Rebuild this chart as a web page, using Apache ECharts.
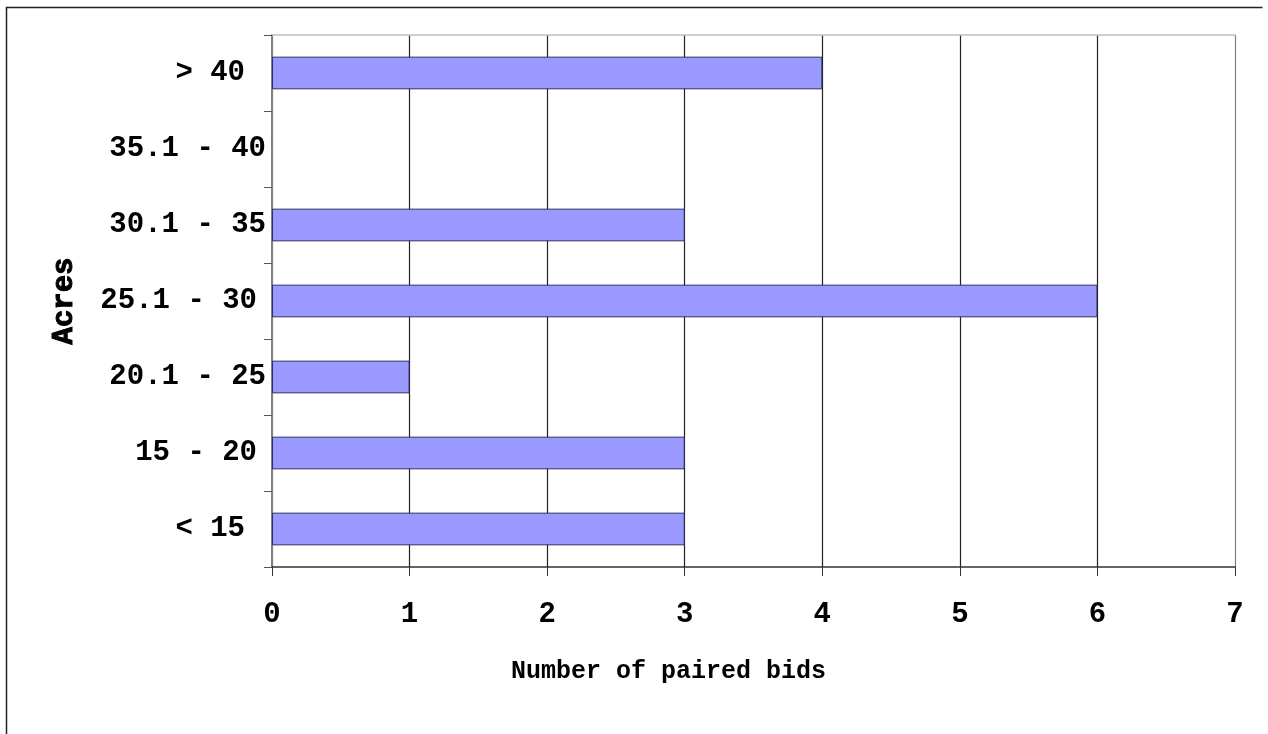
<!DOCTYPE html>
<html>
<head>
<meta charset="utf-8">
<script src="https://cdn.jsdelivr.net/npm/echarts@6/dist/echarts.min.js"></script>
<style>
html,body{margin:0;padding:0;background:#fff;}
#chart{width:1268px;height:734px;}
</style>
</head>
<body>
<div id="chart"></div>
<script>
var categories = ['< 15', '15 - 20', '20.1 - 25', '25.1 - 30', '30.1 - 35', '35.1 - 40', '> 40'];
var pairedBids = [3, 3, 1, 6, 3, 0, 4];
var xTicks = [0, 1, 2, 3, 4, 5, 6, 7];

var FONT = "'Liberation Mono', 'Courier New', monospace";
// right-side indentation of some category labels, as in the original
var labelIndent = {'< 15': 't2', '> 40': 't2', '15 - 20': 't1', '25.1 - 30': 't1'};
var labelRich = {
  t1: {padding: [0, 9, 0, 0], fontFamily: FONT, fontWeight: 'bold', fontSize: 29, color: '#000'},
  t2: {padding: [0, 21, 0, 0], fontFamily: FONT, fontWeight: 'bold', fontSize: 29, color: '#000'}
};

var barData = pairedBids.map(function (v) {
  return v === 0 ? {value: v, itemStyle: {borderWidth: 0, opacity: 0}} : v;
});

var chart = echarts.init(document.getElementById('chart'), null, {renderer: 'canvas'});
chart.setOption({
  backgroundColor: '#ffffff',
  animation: false,
  grid: {left: 272, right: 33, top: 35, bottom: 167},
  graphic: [{
    type: 'polyline',
    shape: {points: [[6.5, 734], [6.5, 7.5], [1262.5, 7.5]]},
    style: {stroke: '#222', lineWidth: 1.5, fill: null},
    silent: true
  }],
  xAxis: [{
    type: 'value',
    min: xTicks[0],
    max: xTicks[xTicks.length - 1],
    interval: 1,
    name: 'Number of paired bids',
    nameLocation: 'middle',
    nameGap: 92,
    nameTextStyle: {fontFamily: FONT, fontWeight: 'bold', fontSize: 25, color: '#000', padding: [0, 170, 0, 0]},
    axisLine: {show: true, lineStyle: {color: '#333', width: 1.5}},
    axisTick: {show: true, length: 9, lineStyle: {color: '#333'}},
    axisLabel: {margin: 33, fontFamily: FONT, fontWeight: 'bold', fontSize: 29, color: '#000'},
    splitLine: {show: true, lineStyle: {color: ['#808080', '#222', '#222', '#222', '#222', '#222', '#222', '#808080'], width: 1.2}}
  }, {
    type: 'value',
    position: 'top',
    min: xTicks[0],
    max: xTicks[xTicks.length - 1],
    interval: 1,
    axisLine: {show: true, lineStyle: {color: '#c0c0c0', width: 1.5}},
    axisTick: {show: false},
    axisLabel: {show: false},
    splitLine: {show: false}
  }],
  yAxis: {
    type: 'category',
    data: categories,
    name: 'Acres',
    nameLocation: 'middle',
    nameGap: 193,
    nameRotate: 90,
    nameTextStyle: {fontFamily: FONT, fontWeight: 'bold', fontSize: 29, color: '#000', textBorderColor: '#000', textBorderWidth: 1},
    axisLine: {show: true, lineStyle: {color: '#808080', width: 2}},
    axisTick: {show: true, length: 8, lineStyle: {color: '#555'}},
    axisLabel: {
      margin: 6, fontFamily: FONT, fontWeight: 'bold', fontSize: 29, color: '#000',
      formatter: function (v) { return labelIndent[v] ? '{' + labelIndent[v] + '|' + v + '}' : v; },
      rich: labelRich
    },
    splitLine: {show: false}
  },
  series: [{
    type: 'bar',
    data: barData,
    barWidth: '43%',
    itemStyle: {color: '#9999ff', borderColor: '#2e2e60', borderWidth: 1}
  }]
});
</script>
</body>
</html>
